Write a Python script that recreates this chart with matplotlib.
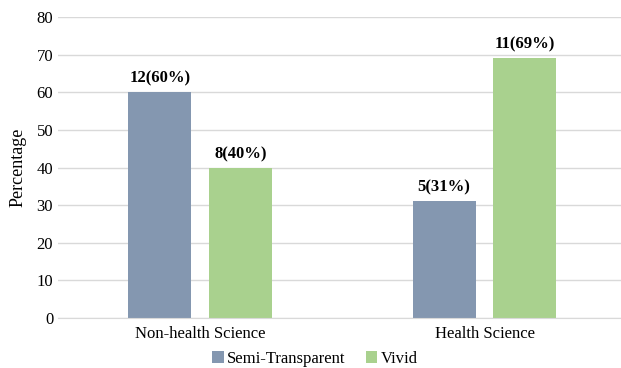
import matplotlib
matplotlib.use("Agg")
import matplotlib.pyplot as plt
import numpy as np

plt.rcParams['font.family'] = ['Liberation Serif', 'DejaVu Serif']

categories = ["Non-health Science", "Health Science"]
series_names = ["Semi-Transparent", "Vivid"]
semi_pct = [60, 31]
vivid_pct = [40, 69]
semi_n = [12, 5]
vivid_n = [8, 11]
colors = ["#8497B0", "#A9D18E"]

fig = plt.figure(figsize=(6.21, 3.68), dpi=100)
ax = fig.add_axes([58/621, 1 - 318/368, 1 - 58/621, (318 - 17)/368])

x = np.arange(len(categories))
w = 0.221
off = 0.142
for vals, counts, dx, col, name in [(semi_pct, semi_n, -off, colors[0], series_names[0]),
                                     (vivid_pct, vivid_n, off, colors[1], series_names[1])]:
    bars = ax.bar(x + dx, vals, width=w, color=col, label=name, zorder=3)
    for b, v, c in zip(bars, vals, counts):
        ax.annotate(f"{c}({v}%)", (b.get_x() + b.get_width() / 2, v),
                    xytext=(0, 4), textcoords="offset points",
                    ha="center", va="bottom", fontsize=12, fontweight="bold")

ax.set_xlim(-0.5, 1.48)
ax.set_ylim(0, 80)
ax.set_yticks(range(0, 81, 10))
ax.set_xticks(x)
ax.set_xticklabels(categories)
ax.tick_params(axis="both", length=0, labelsize=12)
ax.tick_params(axis="y", pad=3.5)
ax.tick_params(axis="x", pad=6)
ax.yaxis.grid(True, color="#D9D9D9", linewidth=1, zorder=0)
for s in ["top", "right", "left"]:
    ax.spines[s].set_visible(False)
ax.spines["bottom"].set_color("#D9D9D9")
ax.spines["bottom"].set_zorder(4)
ax.set_ylabel("Percentage", fontsize=13, labelpad=7)

fig.legend(loc="center", bbox_to_anchor=(315/621, 1 - 359/368), ncol=2, frameon=False,
           fontsize=12, handlelength=0.7, handleheight=0.7, handletextpad=0.2,
           columnspacing=1.2, borderaxespad=0, borderpad=0)

fig.savefig("out.png", dpi=100)
